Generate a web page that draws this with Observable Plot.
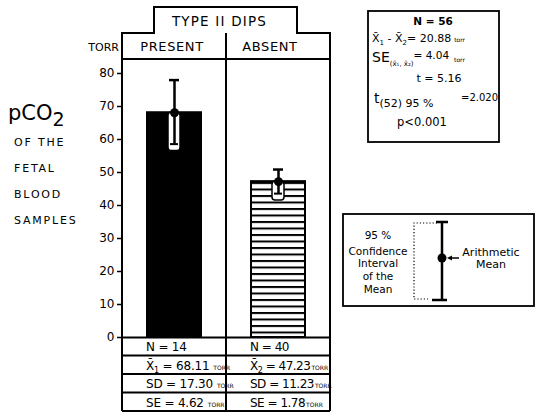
<!DOCTYPE html>
<html><head><meta charset="utf-8">
<script src="https://cdn.jsdelivr.net/npm/d3@7"></script>
<script src="https://cdn.jsdelivr.net/npm/@observablehq/plot@0.6"></script>
<style>
html,body{margin:0;padding:0;background:#fff;}
#chart{position:relative;width:536px;height:417px;overflow:hidden;font-family:"DejaVu Sans",sans-serif;background:#fff;}
#chart svg{position:absolute;left:0;top:0;}
</style></head><body><div id="chart"></div>
<script>
// ---- data ----
const categories = ["PRESENT", "ABSENT"];
const means = [68.11, 47.23];
const ciLow = [58.6, 43.6];
const ciHigh = [78.0, 50.9];
const nValues = [14, 40];
const sdValues = [17.30, 11.23];
const seValues = [4.62, 1.78];
const meanSubs = ["1", "2"];
const yTicks = [0, 10, 20, 30, 40, 50, 60, 70, 80];
const titleText = "TYPE II DIPS";
const unitText = "TORR";
const leftLabel = ["OF THE", "FETAL", "BLOOD", "SAMPLES"];
const statN = 56;
const statDiff = 20.88;
const statSE = 4.04;
const statT = 5.16;
const statDf = 52;
const statConf = "95 %";
const statTcrit = "2.020";
const statP = "p<0.001";
const legendLeft = ["95 %", "Confidence", "Interval", "of the", "Mean"];
const legendRight = ["Arithmetic", "Mean"];

// ---- layout ----
const W = 536, H = 417, AXL = 122, AXR = 330, Y0 = 337, Y80 = 73;
const FONT = '"DejaVu Sans", sans-serif';
const data = categories.map((c, i) => ({cat: c, mean: means[i], lo: ciLow[i], hi: ciHigh[i]}));

const plot = Plot.plot({
  width: W, height: H,
  marginLeft: AXL, marginRight: W - AXR, marginTop: Y80, marginBottom: H - Y0,
  x: {type: "band", domain: categories, padding: 0, axis: null},
  y: {domain: [0, 80], axis: null},
  color: {domain: categories, range: ["black", "url(#hatch)"]},
  style: {background: "transparent", color: "black", fontFamily: FONT, fontSize: "12px", overflow: "visible"},
  marks: [
    Plot.barY(data, {x: "cat", y: "mean", fill: "cat", stroke: "black", strokeWidth: 2, insetLeft: 25, insetRight: 25}),
    Plot.barY(data, {x: "cat", y1: "lo", y2: "mean", fill: "white", stroke: "black", strokeWidth: 1.5, insetLeft: 46, insetRight: 46, insetBottom: -7, rx: 3}),
    Plot.ruleX(data, {x: "cat", y1: "lo", y2: "hi", stroke: "black", strokeWidth: 2.5}),
    Plot.tickY(data, {x: "cat", y: "hi", stroke: "black", strokeWidth: 2.5, insetLeft: 47, insetRight: 47}),
    Plot.tickY(data, {x: "cat", y: "lo", stroke: "black", strokeWidth: 2, insetLeft: 48, insetRight: 48}),
    Plot.dot(data, {x: "cat", y: "mean", r: 4.5, fill: "black"}),
    Plot.ruleY([0], {stroke: "black", strokeWidth: 2}),
    Plot.axisY({ticks: yTicks, tickSize: 5, tickPadding: 3, label: null, fontSize: 12, tickFormat: d => String(d), strokeWidth: 1.5})
  ]
});
const defs = document.createElementNS("http://www.w3.org/2000/svg", "defs");
defs.innerHTML = '<pattern id="hatch" patternUnits="userSpaceOnUse" width="8" height="6.5"><rect width="8" height="6.5" fill="white"/><rect y="0" width="8" height="2" fill="black"/></pattern>';
plot.insertBefore(defs, plot.firstChild);
const chart = document.getElementById("chart");
chart.appendChild(plot);

// ---- overlay: frame, headers, table, annotations ----
const xS = plot.scale("x"), yS = plot.scale("y");
const bx = c => xS.apply(c);
const bw = xS.bandwidth;
const y0 = yS.apply(0);
const xL = bx(categories[0]), xM = bx(categories[1]), xR = bx(categories[1]) + bw;
const rowH = 18.5;
const rows = [0, 1, 2, 3, 4].map(i => y0 + i * rowH);
const hTop = 33, hBot = 59, tabL = 154, tabR = 297, tabTop = 7;

let s = `<svg width="${W}" height="${H}" xmlns="http://www.w3.org/2000/svg" style="font-family:${FONT.replace(/"/g, "'")}" fill="black">`;
s += `<g fill="none" stroke="black" stroke-width="2">`;
s += `<path d="M${xL},${rows[4]}V${hTop}H${tabL}V${tabTop}H${tabR}V${hTop}H${xR}V${rows[4]}"/>`;
s += `<path d="M${xL},${hBot}H${xR}"/>`;
s += `<path d="M${xM},${hTop}V${rows[4]}"/>`;
for (let i = 1; i < rows.length; i++) s += `<path d="M${xL},${rows[i]}H${xR}"/>`;
s += `</g>`;
// headers
s += `<text x="${(tabL + tabR) / 2 - 6}" y="26" text-anchor="middle" font-size="13.5" letter-spacing="1.2">${titleText}</text>`;
s += `<text x="${xL - 3}" y="51" text-anchor="end" font-size="11">${unitText}</text>`;
categories.forEach((c, i) => {
  s += `<text x="${bx(c) + bw / 2 - (i ? 8 : 2)}" y="51" text-anchor="middle" font-size="13" letter-spacing="0.6">${c}</text>`;
});
// left label
s += `<text x="8" y="120" font-size="21">pCO<tspan font-size="19" dy="6">2</tspan></text>`;
leftLabel.forEach((t, i) => {
  s += `<text x="14" y="${146 + i * 26}" font-size="11" letter-spacing="1.8">${t}</text>`;
});
// table
categories.forEach((c, i) => {
  const tx = bx(c) + 24;
  const small = `<tspan font-size="6" dx="${i ? 1 : 4}" letter-spacing="0">${unitText}</tspan>`;
  const ls = i ? -0.5 : -0.2;
  s += `<text x="${tx}" y="${rows[0] + 14}" font-size="12" letter-spacing="${ls}">N = ${nValues[i]}</text>`;
  s += `<text x="${tx}" y="${rows[1] + 14}" font-size="12" letter-spacing="${ls}">X\u0304<tspan font-size="8" dy="3">${meanSubs[i]}</tspan><tspan dy="-3"> = ${means[i].toFixed(2)}</tspan>${small}</text>`;
  s += `<text x="${tx}" y="${rows[2] + 14}" font-size="12" letter-spacing="${ls}">SD = ${sdValues[i].toFixed(2)}${small}</text>`;
  s += `<text x="${tx}" y="${rows[3] + 14}" font-size="12" letter-spacing="${ls}">SE = ${seValues[i].toFixed(2)}${small}</text>`;
});
// stats box
s += `<rect x="368" y="11" width="131" height="131" fill="none" stroke="black" stroke-width="1.8"/>`;
s += `<text x="433" y="25" text-anchor="middle" font-size="10.5" font-weight="bold">N = ${statN}</text>`;
s += `<text x="372" y="42" font-size="11">X\u0304<tspan font-size="7" dy="3">1</tspan><tspan dy="-3"> - X\u0304</tspan><tspan font-size="7" dy="3">2</tspan><tspan dy="-3">= ${statDiff.toFixed(2)}</tspan><tspan font-size="6" dx="3">torr</tspan></text>`;
s += `<text x="372" y="62" font-size="14">SE<tspan font-size="7" dy="4">(x\u0304\u2081, x\u0304\u2082)</tspan><tspan font-size="10.5" dy="-7">= ${statSE.toFixed(2)}</tspan><tspan font-size="6" dx="5" dy="3">torr</tspan></text>`;
s += `<text x="439" y="82" text-anchor="middle" font-size="11">t = ${statT.toFixed(2)}</text>`;
s += `<text x="374" y="103" font-size="14">t<tspan font-size="11" dy="4">(${statDf}) ${statConf}</tspan></text>`;
s += `<text x="461" y="101" font-size="10">=${statTcrit}</text>`;
s += `<text x="422" y="126" text-anchor="middle" font-size="11.5">${statP}</text>`;
// legend box
s += `<rect x="343" y="214" width="191" height="92" fill="none" stroke="black" stroke-width="1.8"/>`;
legendLeft.forEach((t, i) => {
  s += `<text x="378" y="${[239, 255, 267, 280, 293][i]}" text-anchor="middle" font-size="10.5">${t}</text>`;
});
s += `<path d="M437,223H414V299H428" fill="none" stroke="black" stroke-width="1.2" stroke-dasharray="1.2,2"/>`;
s += `<path d="M442,222V300M436,222H448M432,300H447" fill="none" stroke="black" stroke-width="2.5"/>`;
s += `<circle cx="442" cy="258" r="4.5"/>`;
s += `<path d="M459,258H450" stroke="black" stroke-width="1.5"/><path d="M447,258L452,255.5L452,260.5Z"/>`;
legendRight.forEach((t, i) => {
  s += `<text x="491" y="${256 + i * 12}" text-anchor="middle" font-size="11">${t}</text>`;
});
s += `</svg>`;
chart.insertAdjacentHTML("beforeend", s);
</script></body></html>
